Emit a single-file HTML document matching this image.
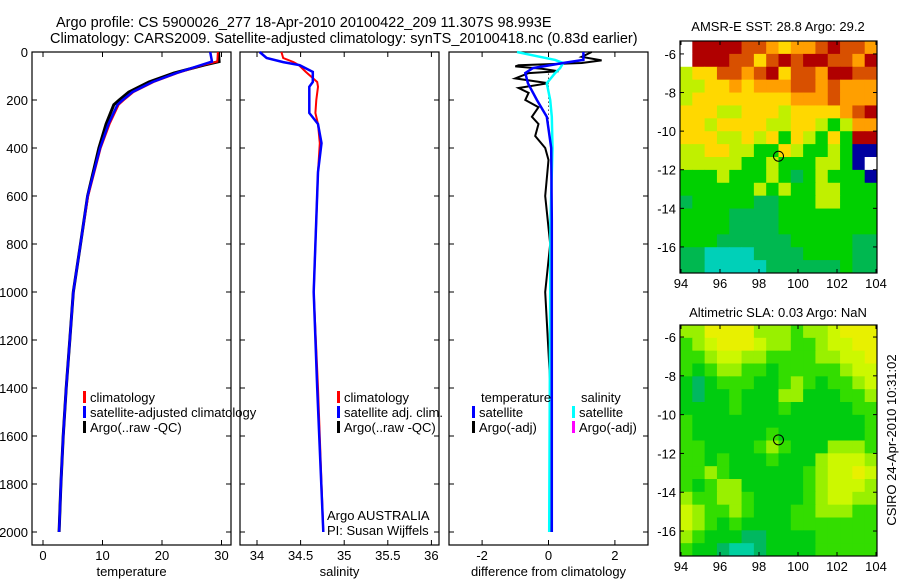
<!DOCTYPE html>
<html><head><meta charset="utf-8"><style>
html,body{margin:0;padding:0;background:#fff;}
svg{display:block;font-family:"Liberation Sans",sans-serif;}
text{font-size:13px;fill:#000;}
</style></head><body>
<svg id="fig" width="900" height="580" viewBox="0 0 900 580" xmlns="http://www.w3.org/2000/svg">
<text x="56" y="27" style="font-size:14.5px">Argo profile: CS 5900026_277 18-Apr-2010 20100422_209 11.307S 98.993E</text>
<text x="50" y="43" style="font-size:14.5px">Climatology: CARS2009. Satellite-adjusted climatology: synTS_20100418.nc (0.83d earlier)</text>
<g id="layer"></g>
<text x="778" y="31" text-anchor="middle">AMSR-E SST: 28.8 Argo: 29.2</text>
<text x="778" y="317" text-anchor="middle">Altimetric SLA: 0.03 Argo: NaN</text>
<text transform="translate(896,440) rotate(-90)" text-anchor="middle">CSIRO 24-Apr-2010 10:31:02</text>
</svg>
<script>
// ---- profile data ----
const tempDepth = [0,40,55,88,125,167,200,220,300,400,600,800,1000,1200,1400,1600,1800,2000];
const tempClim  = [29.4,29.3,26.8,22.6,18.6,15.2,13.6,12.7,11.2,9.7,7.6,6.3,5.1,4.5,3.9,3.4,3.0,2.7];
const tempSat   = [28.1,28.4,26.5,22.4,18.4,15.0,13.4,12.5,11.0,9.6,7.5,6.3,5.1,4.5,3.9,3.4,3.0,2.7];
const tempArgo  = [29.5,29.6,27.0,22.0,17.8,14.4,12.8,11.9,10.6,9.4,7.5,6.3,5.1,4.5,3.9,3.4,3.0,2.7];
const salDepth = [0,25,42,55,83,125,145,200,254,300,380,500,800,1000,1400,2000];
const salClim  = [34.28,34.30,34.42,34.48,34.56,34.69,34.70,34.68,34.67,34.70,34.72,34.70,34.67,34.65,34.70,34.76];
const salSat   = [34.03,34.11,34.30,34.49,34.64,34.64,34.60,34.60,34.60,34.70,34.74,34.70,34.67,34.65,34.69,34.76];
const diffDepth = [0,20,33,46,67,88,130,200,270,400,700,1000,1400,2000];
const diffTempSat = [1.05,1.05,1.05,0.44,-0.47,-0.7,-0.62,-0.35,-0.05,0.08,0.1,0.1,0.1,0.1];
const diffSalSat  = [-0.95,-0.26,0.2,0.44,0.35,0.2,-0.05,0.05,0.1,0.12,0.06,0.05,0.04,0.02];
const argoDiffDepth = [0,20,35,46,55,60,70,80,88,110,130,150,170,200,230,270,300,350,400,450,600,800,1000,1500,2000];
const argoDiffTemp  = [1.3,1.0,1.6,1.0,-0.9,-1.0,-0.2,0.3,-0.6,-1.0,0.0,-0.9,-0.6,-0.7,-0.3,-0.5,-0.3,-0.4,-0.1,0.0,-0.1,0.05,-0.1,0.1,0.05];
const depthTicks = [0,200,400,600,800,1000,1200,1400,1600,1800,2000];
const tempTicks = [0,10,20,30];
const salTicks = [34,34.5,35,35.5,36];
const diffTicks = [-2,0,2];
// ---- map data (colour class codes per cell, rows north->south) ----
const sstRows = [
"WRRRRooOYOOoRooO","WRRRooYoRoRRooOR","LYYooOoRYooORRoo","LLYYOYOOOooOoOOO","LYYYYYYYYOOOoOOO",
"YYYLLYYYLYYYYOoR","YYLYYYYLLYYLGLOO","YYYLLYLYGYLGYGRR","LLYYLLGGYLGGLGBB","LLLLLGGLGGGLLGBW",
"GGGLGGGLGDGLGGGB","GGGGGGLGLGGLLGGG","DGGGGGDDGGGLLGGG","GGGGDDDDGGGGGGGG","GGGGDDDDGGGGGGGG",
"GGGDDDDDDGGGGGDD","DDCCCCDDDDGGGGDD","DDCCCCCDDDDDDGDD"];
const slaRows = [
"LLOOOOLLLMLLYOOO","MLYOOOYLLMMLYYOO","MMLYYLLMMMMLLYYO","MGMLLMMGMMMMMLYY","GTGMMMGGMLMGMMLY",
"GTGGMGGGLLGGGMML","GGGGMGGGMGGGGGMM","MGGGGGGGGGGGGGGM","MGGGGGGMGGGGGGGM","MMGGGGMLMGGGLLLM",
"MMGMGGGMGGGLYYYL","MMLMGGGGGGMLYYOY","MGMLLGGGGGMLYYYL","LMMLLMGGGGMLYYLL","YLMMLMGGGMMLLLMM",
"YLMGMGGGGMMMMMMM","LMGGGTTGGGGMMMMM","MGGTCCTGGGGMMMMM"];
const latTicks = [-6,-8,-10,-12,-14,-16];
const lonTicks = [94,96,98,100,102,104];
const argoLon = [99.0];
const argoLat = [-11.3];

const NS="http://www.w3.org/2000/svg";
const layer=document.getElementById('layer');
function mk(tag,attrs,parent){const e=document.createElementNS(NS,tag);for(const k in attrs)e.setAttribute(k,attrs[k]);(parent||layer).appendChild(e);return e;}
const Y = d => 52 + d*0.24;
const panels=[
 {name:'temperature',x0:32,x1:231,fx:v=>43+v*5.95,ticks:tempTicks,label:'temperature'},
 {name:'salinity',x0:240,x1:439,fx:v=>257+(v-34)*87.2,ticks:salTicks,label:'salinity'},
 {name:'difference',x0:449,x1:648,fx:v=>548.5+v*33.2,ticks:diffTicks,label:'difference from climatology'}];
const yTop=52, yBot=545;
panels.forEach((p,i)=>{
 const g=mk('g',{});
 
 
 const r=mk('rect',{x:p.x0,y:yTop,width:p.x1-p.x0,height:yBot-yTop,fill:'none',stroke:'#000','stroke-width':1.2},g);
 
 
 depthTicks.forEach(d=>{
  mk('line',{x1:p.x0,x2:p.x0+5,y1:Y(d),y2:Y(d),stroke:'#000'},g);
  mk('line',{x1:p.x1,x2:p.x1-5,y1:Y(d),y2:Y(d),stroke:'#000'},g);
  if(i===0){const t=mk('text',{x:p.x0-4,y:Y(d)+5,'text-anchor':'end'},g);t.textContent=d;
   
   }
 });
 p.ticks.forEach(v=>{
  const x=p.fx(v);
  mk('line',{x1:x,x2:x,y1:yBot,y2:yBot-5,stroke:'#000'},g);
  mk('line',{x1:x,x2:x,y1:yTop,y2:yTop+5,stroke:'#000'},g);
  const t=mk('text',{x:x,y:560,'text-anchor':'middle'},g);t.textContent=v;
  
  
 });
 const xl=mk('text',{x:(p.x0+p.x1)/2,y:576,'text-anchor':'middle'},g);xl.textContent=p.label;
 
 
});
function line(xs,ds,fx,color,w,name,dash){
 const pts=xs.map((v,i)=>fx(v).toFixed(1)+','+Y(ds[i]).toFixed(1)).join(' ');
 const e=mk('polyline',{points:pts,fill:'none',stroke:color,'stroke-width':w});
 if(dash)e.setAttribute('stroke-dasharray',dash);
 
 
}
line(tempArgo,tempDepth,panels[0].fx,'#000',3,'argo-temperature-line');
line(tempClim,tempDepth,panels[0].fx,'#f00',2,'climatology-temperature-line');
line(tempSat,tempDepth,panels[0].fx,'#00f',2.5,'satellite-temperature-line');
line(salClim,salDepth,panels[1].fx,'#f00',2,'climatology-salinity-line');
line(salSat,salDepth,panels[1].fx,'#00f',2.5,'satellite-salinity-line');
mk('line',{x1:548.5,x2:548.5,y1:Y(90),y2:Y(300),stroke:'#000','stroke-dasharray':'1,3'});
line(argoDiffTemp,argoDiffDepth,panels[2].fx,'#000',2,'argo-temperature-diff-line');
line(diffSalSat,diffDepth,panels[2].fx,'#0ff',2.5,'satellite-salinity-diff-line');
line(diffTempSat,diffDepth,panels[2].fx,'#00f',2.5,'satellite-temperature-diff-line');
// legends
function leg(x,y,color,label,name){
 if(color){const m=mk('rect',{x:x,y:y-11,width:3,height:12,fill:color});
  
  }
 const t=mk('text',{x:x+7,y:y});t.textContent=label;
 
 
}
leg(83,402,'#f00','climatology','legend-climatology');
leg(83,417,'#00f','satellite-adjusted climatology','legend-satellite');
leg(83,432,'#000','Argo(..raw -QC)','legend-argo');
leg(337,402,'#f00','climatology','legend-sal-climatology');
leg(337,417,'#00f','satellite adj. clim.','legend-sal-satellite');
leg(337,432,'#000','Argo(..raw -QC)','legend-sal-argo');
leg(474,402,null,'temperature','legend-temperature-header');
leg(472,417,'#00f','satellite','legend-diff-temp-satellite');
leg(472,432,'#000','Argo(-adj)','legend-diff-temp-argo');
leg(574,402,null,'salinity','legend-salinity-header');
leg(572,417,'#0ff','satellite','legend-diff-sal-satellite');
leg(572,432,'#f0f','Argo(-adj)','legend-diff-sal-argo');
leg(320,520,null,'Argo AUSTRALIA','float-program-label');
leg(320,535,null,'PI: Susan Wijffels','pi-label');
// maps
const sstCol={R:'#b00000',o:'#d85000',O:'#ff9f00',Y:'#ffd800',L:'#c0f000',G:'#00d000',D:'#00b850',C:'#00d0b8',B:'#0000a0',W:'#ffffff'};
const slaCol={O:'#e8f000',Y:'#ccf800',L:'#99f000',M:'#33dd00',G:'#00cc10',T:'#00b860',C:'#00d0a0'};
function drawMap(rows,cols,x0,x1,y0,y1,latTop,latPx,name){
 const g=mk('g',{});
 
 
 const nr=rows.length,nc=rows[0].length,cw=(x1-x0)/nc,ch=(y1-y0)/nr;
 rows.forEach((row,r)=>{[...row].forEach((c,k)=>{
  mk('rect',{x:x0+k*cw,y:y0+r*ch,width:cw+0.5,height:ch+0.5,fill:cols[c]},g);});});
 const fx=lon=>681+(lon-94)*19.5, fy=lat=>y0+(latTop-lat)*latPx;
 mk('rect',{x:x0,y:y0,width:x1-x0,height:y1-y0,fill:'none',stroke:'#000','stroke-width':1.2},g);
 latTicks.forEach(l=>{const y=fy(l);
  mk('line',{x1:x0,x2:x0+4,y1:y,y2:y,stroke:'#000'},g);mk('line',{x1:x1,x2:x1-4,y1:y,y2:y,stroke:'#000'},g);
  const t=mk('text',{x:x0-4,y:y+5,'text-anchor':'end'},g);t.textContent=l;
  
  });
 lonTicks.forEach(l=>{const x=fx(l);
  mk('line',{x1:x,x2:x,y1:y1,y2:y1-4,stroke:'#000'},g);mk('line',{x1:x,x2:x,y1:y0,y2:y0+4,stroke:'#000'},g);
  const t=mk('text',{x:x,y:y1+15,'text-anchor':'middle'},g);t.textContent=l;
  
  });
 argoLon.forEach((lo,i)=>{const c=mk('circle',{cx:fx(lo),cy:fy(argoLat[i]),r:5,fill:'none',stroke:'#000'},g);
  
  });
}
drawMap(sstRows,sstCol,680,877,41,273,-5.33,19.3,'sst-map');
drawMap(slaRows,slaCol,680,877,325,556,-5.38,19.4,'sla-map');
</script>
</body></html>
